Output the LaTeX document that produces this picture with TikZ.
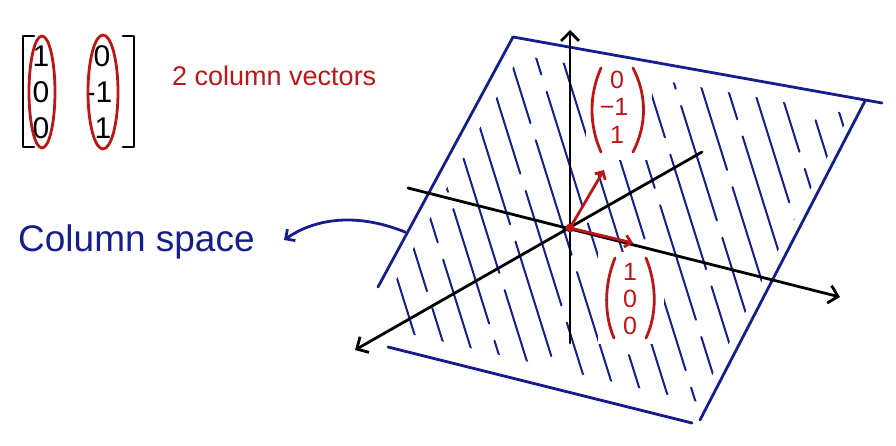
\documentclass[tikz,border=0pt]{standalone}
\usepackage{fontspec}
\setmainfont{Liberation Sans}
\usetikzlibrary{arrows.meta}
\begin{document}
\begin{tikzpicture}[x=1pt,y=-1pt,line cap=round,line join=round,
  bl/.style={draw=pblue,line width=2.8pt},
  ax/.style={draw=black,line width=2.8pt},
  rd/.style={draw=pred,line width=2.8pt},
  rtext/.style={text=pred,inner sep=0pt,font=\fontsize{25}{27}\selectfont},
  mtext/.style={inner sep=0pt,font=\fontsize{30}{32}\selectfont}]
\definecolor{pblue}{RGB}{22,30,140}
\definecolor{pred}{RGB}{190,22,22}
\useasboundingbox (0,0) rectangle (896,446);
% hatching
\begin{scope}
\clip (520,55) -- (850,114) -- (698,402) -- (394,330) -- (385,300) -- cycle;
\foreach \x [count=\i] in {180,206,...,900}{
  \pgfmathsetmacro{\ph}{mod(\i*53,140)}
  \draw[pblue,line width=2pt,dash pattern=on 120pt off 18pt,dash phase=\ph pt] (\x,0) -- (\x+140,448);
}
\end{scope}
\fill[white] (586,64) rectangle (652,160);
\fill[white] (598,252) rectangle (664,344);
% plane
\coordinate (TL) at (513,37);
\coordinate (TR) at (882,103);
\coordinate (RT) at (865,101);
\coordinate (RB) at (700,420);
\coordinate (LB) at (378,287);
\coordinate (BL) at (388,347);
\coordinate (BR) at (692,423);
\draw[bl] (TL) -- (TR);
\draw[bl] (RT) -- (RB);
\draw[bl] (TL) -- (LB);
\draw[bl] (BL) -- (BR);
% axes
\coordinate (O) at (570,228);
\coordinate (zt) at (570,30); \coordinate (zb) at (570,343);
\coordinate (xl) at (408,188); \coordinate (xr) at (840,297);
\coordinate (yt) at (702,152); \coordinate (yb) at (355,350);
\draw[ax,-{Straight Barb[length=9pt,width=18pt]}] (zb) -- (zt);
\draw[ax,-{Straight Barb[length=9pt,width=18pt]}] (xl) -- (xr);
\draw[ax,-{Straight Barb[length=9pt,width=18pt]}] (yt) -- (yb);
% red vectors
\coordinate (v1) at (633,243);
\coordinate (v2) at (604,170);
\draw[rd,-{Straight Barb[length=6pt,width=12pt]}] (O) -- (v1);
\draw[rd,-{Straight Barb[length=6pt,width=12pt]}] (O) -- (v2);
\fill[pred] (O) circle (4.5pt);
% vector (0,-1,1)
\node[rtext] (a1) at (617,80) {0};
\node[rtext] (a2) at (614,107) {−1};
\node[rtext] (a3) at (617,135) {1};
\draw[rd] (601,68) .. controls (589,95) and (589,125) .. (601,152);
\draw[rd] (633,68) .. controls (647,95) and (647,125) .. (633,152);
% vector (1,0,0)
\node[rtext] (b1) at (630,272) {1};
\node[rtext] (b2) at (630,299) {0};
\node[rtext] (b3) at (630,326) {0};
\draw[rd] (615,258) .. controls (604,285) and (604,315) .. (614,338);
\draw[rd] (646,258) .. controls (657,285) and (657,315) .. (646,338);
% matrix top-left
\node[mtext] (e11) at (41,56) {1};
\node[mtext] (e21) at (41,92) {0};
\node[mtext] (e31) at (41,128) {0};
\node[mtext] (e12) at (102,56) {0};
\node[mtext] (e22) at (99,92) {-1};
\node[mtext] (e32) at (103,128) {1};
\draw[line width=2.8pt] (34,36) -- (23,36) -- (23,147) -- (34,147);
\draw[line width=2.8pt] (123,36) -- (134,36) -- (134,147) -- (123,147);
\draw[rd] (42,92) ellipse (13pt and 56pt);
\draw[rd] (103,92) ellipse (15pt and 57pt);
\node[text=pred,inner sep=0pt,font=\fontsize{27}{30}\selectfont,anchor=west] (t1) at (172,76) {2 column vectors};
% column space
\node[text=pblue,inner sep=0pt,font=\fontsize{37}{40}\selectfont,anchor=west] (cs) at (18,242) {Column space};
\coordinate (as) at (405,232);
\draw[bl,-{Straight Barb[length=7pt,width=14pt]}] (as) .. controls (350,210) and (310,222) .. (284,240);
\end{tikzpicture}
\end{document}
